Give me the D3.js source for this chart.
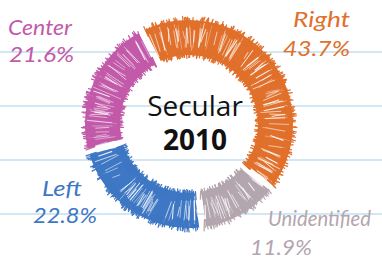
<!DOCTYPE html>
<html>
<head>
<meta charset="utf-8">
<script src="https://cdn.jsdelivr.net/npm/d3@7"></script>
<style>
  html, body { margin: 0; padding: 0; background: #fff; }
  svg { display: block; }
</style>
</head>
<body>
<div id="chart"></div>
<script>
const categories = ["Right", "Unidentified", "Left", "Center"];
const shares = [43.7, 11.9, 22.8, 21.6];
const colors = ["#e0702b", "#b3a6ae", "#3e77c3", "#c25aa9"];
const title = "Secular";
const year = "2010";

const width = 382, height = 264;
const cx = 189, cy = 124;
const innerR = 68, outerR = 105;

// label placement
const labelLayout = {
  "Right":        { x: 350, y1: 27,  y2: 56,  anchor: "end",   w1: 57,  w2: 67 },
  "Unidentified": { x: 268, y1: 226, y2: 255, anchor: "start", w1: 103, w2: 62, dx2: -18 },
  "Left":         { x: 42,  y1: 196, y2: 223, anchor: "start", w1: 40,  w2: 64, dx2: -9 },
  "Center":       { x: 8,   y1: 35,  y2: 62,  anchor: "start", w1: 64,  w2: 65, dx2: 1 }
};

const svg = d3.select("#chart").append("svg")
  .attr("width", width)
  .attr("height", height);

// notebook rule lines
const rules = [52, 106, 160, 214];
svg.append("g").selectAll("line")
  .data(rules)
  .join("line")
  .attr("x1", 0).attr("x2", width)
  .attr("y1", d => d).attr("y2", d => d)
  .attr("stroke", "#d3e6f3")
  .attr("stroke-width", 2);

const data = categories.map((c, i) => ({ name: c, value: shares[i], color: colors[i] }));

const start = -27 * Math.PI / 180;
const pie = d3.pie()
  .sort(null)
  .value(d => d.value)
  .startAngle(start)
  .endAngle(start + 2 * Math.PI)
  .padAngle(0.055);

const arcs = pie(data);

const arcGen = d3.arc().innerRadius(innerR + 1).outerRadius(outerR - 1);

// seeded jitter for the pencil texture
const rnd = d3.randomUniform.source(d3.randomLcg(0.42))(0, 1);
const ring = svg.append("g").attr("transform", `translate(${cx},${cy})`);

function seg(r0, ang0, r1, ang1) {
  return {
    x1: r0 * Math.sin(ang0), y1: -r0 * Math.cos(ang0),
    x2: r1 * Math.sin(ang1), y2: -r1 * Math.cos(ang1)
  };
}

arcs.forEach(a => {
  const g = ring.append("g");
  const col = a.data.color;
  const a0 = a.startAngle + a.padAngle / 2;
  const a1 = a.endAngle - a.padAngle / 2;

  g.append("path").attr("d", arcGen(a)).attr("fill", col);

  // white streaks between pencil strokes
  const nWhite = Math.round((a1 - a0) * outerR / 3.2);
  const whites = [];
  for (let i = 0; i < nWhite; i++) {
    const ang = a0 + 0.01 + (a1 - a0 - 0.02) * rnd();
    const tilt = (rnd() - 0.4) * 0.06;
    const r0 = innerR + 4 + rnd() * 14;
    const r1 = outerR - 2 - rnd() * 10;
    const s = seg(r0, ang, r1, ang + tilt);
    s.w = 0.5 + rnd() * 0.7;
    s.o = 0.55 + rnd() * 0.4;
    whites.push(s);
  }
  g.selectAll("line.w")
    .data(whites)
    .join("line")
    .attr("class", "w")
    .attr("x1", d => d.x1).attr("y1", d => d.y1)
    .attr("x2", d => d.x2).attr("y2", d => d.y2)
    .attr("stroke", "#fff")
    .attr("stroke-opacity", d => d.o)
    .attr("stroke-width", d => d.w);

  // ragged stroke ends on both edges
  const nEdge = Math.round((a1 - a0) * outerR / 1.6);
  const edges = [];
  for (let i = 0; i < nEdge; i++) {
    const ang = a0 + (a1 - a0) * rnd();
    const tilt = (rnd() - 0.4) * 0.04;
    edges.push(seg(outerR - 8, ang, outerR - 1 + rnd() * 4, ang + tilt));
    const angI = a0 + (a1 - a0) * rnd();
    edges.push(seg(innerR + 1 - rnd() * 3.5, angI, innerR + 8, angI + tilt));
  }
  g.selectAll("line.e")
    .data(edges)
    .join("line")
    .attr("class", "e")
    .attr("x1", d => d.x1).attr("y1", d => d.y1)
    .attr("x2", d => d.x2).attr("y2", d => d.y2)
    .attr("stroke", col)
    .attr("stroke-width", 1.2)
    .attr("stroke-linecap", "round");
});

// labels
const labels = svg.append("g")
  .attr("font-family", "Lato, 'DejaVu Sans', sans-serif")
  .attr("font-style", "italic")
  .attr("font-weight", 400)
  .attr("font-size", 22);

arcs.forEach(a => {
  const L = labelLayout[a.data.name];
  labels.append("text")
    .attr("x", L.x).attr("y", L.y1)
    .attr("text-anchor", L.anchor)
    .attr("fill", a.data.color)
    .attr("textLength", L.w1)
    .attr("lengthAdjust", "spacingAndGlyphs")
    .text(a.data.name);
  labels.append("text")
    .attr("x", L.x + (L.dx2 || 0)).attr("y", L.y2)
    .attr("text-anchor", L.anchor)
    .attr("fill", a.data.color)
    .attr("textLength", L.w2)
    .attr("lengthAdjust", "spacingAndGlyphs")
    .text(d3.format(".1f")(a.data.value) + "%");
});

// centre title
const centre = svg.append("text")
  .attr("text-anchor", "middle")
  .attr("font-family", "'Open Sans', sans-serif")
  .attr("font-size", 28)
  .attr("fill", "#111");
centre.append("tspan")
  .attr("x", 195).attr("y", 116)
  .text(title);
centre.append("tspan")
  .attr("x", 195).attr("y", 150)
  .attr("font-weight", 700)
  .text(year);
</script>
</body>
</html>
